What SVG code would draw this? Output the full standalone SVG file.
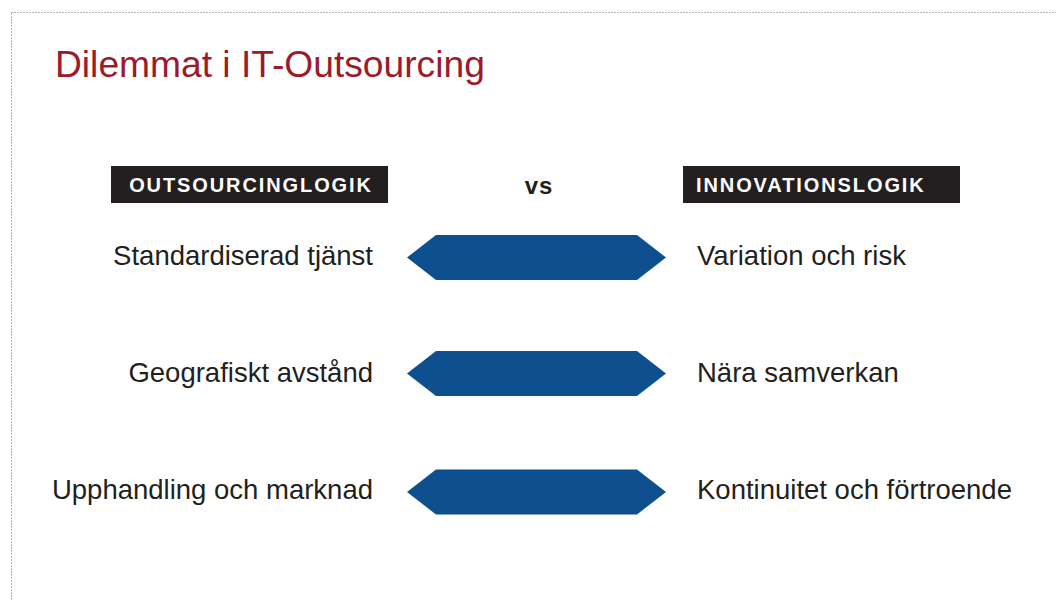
<svg xmlns="http://www.w3.org/2000/svg" width="1056" height="600" viewBox="0 0 1056 600">
<style>
.frame{fill:none;stroke:#666;stroke-width:1;stroke-dasharray:1 2}
.title{font-family:"Liberation Sans",Arial,sans-serif;font-size:37.2px;fill:#9b1b2a}
.hdrbox{fill:#231f20}
.hdr{font-family:"Liberation Sans",Arial,sans-serif;font-weight:bold;font-size:20px;fill:#fff;letter-spacing:1.9px}
.vs{font-family:"Liberation Sans",Arial,sans-serif;font-weight:bold;font-size:24px;fill:#231f20;letter-spacing:1px}
.lbl{font-family:"Liberation Sans",Arial,sans-serif;font-size:27.5px;fill:#231f20}
.arrow{fill:#0d4f8f}
</style>
<rect width="1056" height="600" fill="#fff"/>
<rect class="frame" x="11.5" y="12.5" width="1100" height="650"/>
<text class="title" x="55" y="77">Dilemmat i IT-Outsourcing</text>
<g id="header-outsourcing">
<rect class="hdrbox" x="111" y="166" width="277" height="37"/>
<text class="hdr" x="251" y="191.5" text-anchor="middle">OUTSOURCINGLOGIK</text>
</g>
<g id="header-vs">
<text class="vs" x="539" y="193.5" text-anchor="middle">vs</text>
</g>
<g id="header-innovation">
<rect class="hdrbox" x="683" y="166" width="277" height="37"/>
<text class="hdr" x="696" y="191.5">INNOVATIONSLOGIK</text>
</g>
<g id="row1-left"><text class="lbl" x="373" y="265" text-anchor="end">Standardiserad tjänst</text></g>
<g id="row1-right"><text class="lbl" x="697" y="265">Variation och risk</text></g>
<g id="row2-left"><text class="lbl" x="373" y="382" text-anchor="end">Geografiskt avstånd</text></g>
<g id="row2-right"><text class="lbl" x="697" y="382">Nära samverkan</text></g>
<g id="row3-left"><text class="lbl" x="373" y="499" text-anchor="end">Upphandling och marknad</text></g>
<g id="row3-right"><text class="lbl" x="697" y="499">Kontinuitet och förtroende</text></g>
<g id="connectors">
<polygon class="arrow" points="407,257.5 436,235 637,235 666,257.5 637,280 436,280"/>
<polygon class="arrow" points="407,373.5 436,351 637,351 666,373.5 637,396 436,396"/>
<polygon class="arrow" points="407,492 436,469.5 637,469.5 666,492 637,514.5 436,514.5"/>
</g>
</svg>
